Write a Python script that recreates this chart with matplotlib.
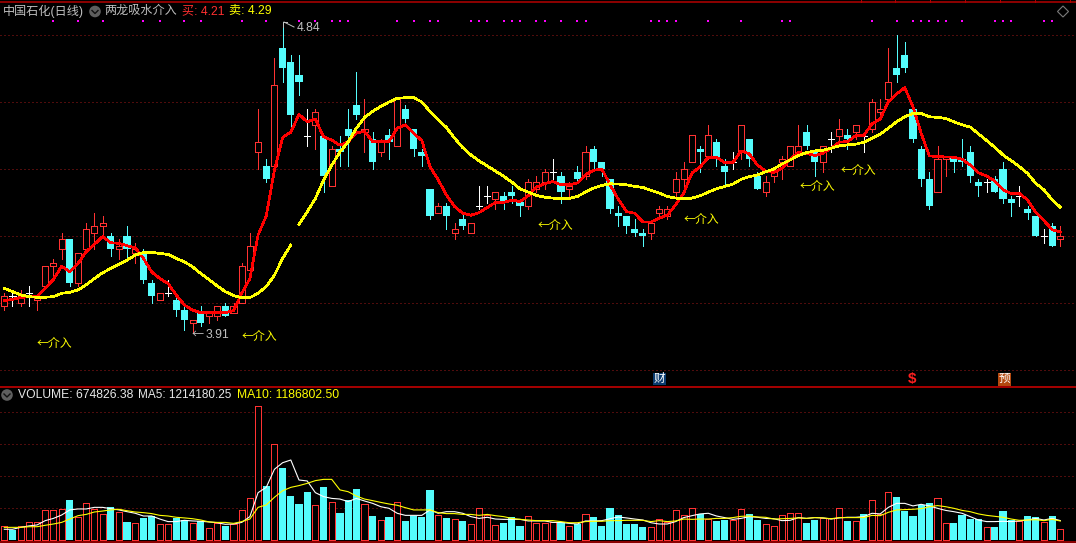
import matplotlib
matplotlib.use("Agg")
import numpy as np
import matplotlib.pyplot as plt
from matplotlib.patches import Circle, Rectangle, Polygon

plt.rcParams["font.family"] = ["Liberation Sans", "Noto Sans CJK SC"]

# daily candles, 10 per row
opens = [
    3.99, 4.02, 4.00, 4.03, 4.01, 4.05, 4.11, 4.16, 4.19, 4.06,
    4.16, 4.21, 4.23, 4.20, 4.16, 4.20, 4.15, 4.15, 4.06, 4.01,
    4.03, 4.01, 3.98, 3.94, 3.97, 3.96, 3.96, 3.99, 3.97, 4.00,
    4.10, 4.45, 4.41, 4.41, 4.76, 4.72, 4.68, 4.50, 4.53, 4.50,
    4.35, 4.46, 4.52, 4.59, 4.51, 4.49, 4.45, 4.50, 4.47, 4.58,
    4.52, 4.45, 4.34, 4.27, 4.29, 4.21, 4.25, 4.21, 4.29, 4.32,
    4.31, 4.32, 4.33, 4.30, 4.29, 4.34, 4.36, 4.39, 4.38, 4.34,
    4.39, 4.38, 4.46, 4.42, 4.37, 4.27, 4.26, 4.22, 4.21, 4.21,
    4.27, 4.26, 4.33, 4.37, 4.42, 4.46, 4.44, 4.48, 4.41, 4.42,
    4.45, 4.49, 4.38, 4.33, 4.38, 4.42, 4.41, 4.45, 4.51, 4.45,
    4.42, 4.49, 4.50, 4.50, 4.51, 4.50, 4.52, 4.57, 4.61, 4.70,
    4.74, 4.58, 4.46, 4.37, 4.33, 4.43, 4.44, 4.43, 4.45, 4.36,
    4.36, 4.37, 4.40, 4.31, 4.32, 4.28, 4.26, 4.20, 4.23, 4.19,
]
closes = [
    4.02, 4.02, 4.02, 4.03, 4.02, 4.11, 4.12, 4.19, 4.06, 4.15,
    4.22, 4.23, 4.24, 4.16, 4.17, 4.16, 4.16, 4.07, 4.02, 4.03,
    4.03, 3.98, 3.95, 3.95, 3.94, 3.97, 3.99, 3.96, 3.99, 4.11,
    4.17, 4.48, 4.37, 4.65, 4.70, 4.56, 4.66, 4.50, 4.57, 4.38,
    4.46, 4.45, 4.50, 4.56, 4.52, 4.42, 4.48, 4.48, 4.61, 4.55,
    4.46, 4.44, 4.26, 4.29, 4.26, 4.22, 4.23, 4.24, 4.29, 4.32,
    4.33, 4.30, 4.32, 4.29, 4.36, 4.36, 4.39, 4.39, 4.33, 4.35,
    4.37, 4.45, 4.42, 4.40, 4.28, 4.26, 4.23, 4.21, 4.20, 4.24,
    4.28, 4.28, 4.37, 4.40, 4.50, 4.45, 4.50, 4.43, 4.39, 4.42,
    4.53, 4.43, 4.34, 4.36, 4.39, 4.43, 4.47, 4.47, 4.47, 4.42,
    4.47, 4.49, 4.52, 4.49, 4.53, 4.50, 4.60, 4.58, 4.66, 4.68,
    4.70, 4.49, 4.37, 4.29, 4.43, 4.44, 4.42, 4.42, 4.38, 4.35,
    4.36, 4.33, 4.31, 4.30, 4.32, 4.27, 4.20, 4.20, 4.17, 4.20,
]
highs = [
    4.03, 4.03, 4.04, 4.05, 4.02, 4.11, 4.13, 4.21, 4.19, 4.15,
    4.24, 4.27, 4.26, 4.21, 4.19, 4.23, 4.18, 4.16, 4.07, 4.03,
    4.07, 4.02, 3.99, 3.95, 3.99, 3.97, 3.99, 4.00, 4.00, 4.12,
    4.21, 4.58, 4.43, 4.73, 4.84, 4.74, 4.74, 4.58, 4.58, 4.50,
    4.47, 4.50, 4.58, 4.69, 4.61, 4.51, 4.49, 4.52, 4.61, 4.59,
    4.52, 4.46, 4.34, 4.30, 4.30, 4.24, 4.27, 4.24, 4.35, 4.35,
    4.33, 4.33, 4.35, 4.31, 4.37, 4.38, 4.40, 4.43, 4.39, 4.36,
    4.41, 4.47, 4.47, 4.42, 4.37, 4.29, 4.26, 4.25, 4.22, 4.24,
    4.29, 4.29, 4.39, 4.42, 4.50, 4.47, 4.53, 4.49, 4.43, 4.45,
    4.53, 4.49, 4.39, 4.38, 4.40, 4.44, 4.47, 4.53, 4.53, 4.46,
    4.47, 4.51, 4.55, 4.52, 4.53, 4.51, 4.61, 4.61, 4.76, 4.80,
    4.78, 4.58, 4.47, 4.39, 4.47, 4.44, 4.44, 4.49, 4.47, 4.37,
    4.37, 4.38, 4.42, 4.32, 4.35, 4.29, 4.26, 4.22, 4.24, 4.23,
]
lows = [
    3.98, 3.99, 3.99, 3.99, 3.98, 4.05, 4.08, 4.13, 4.05, 4.05,
    4.15, 4.16, 4.20, 4.14, 4.13, 4.13, 4.12, 4.06, 4.00, 4.01,
    4.02, 3.96, 3.92, 3.91, 3.93, 3.94, 3.95, 3.96, 3.97, 4.00,
    4.10, 4.40, 4.36, 4.41, 4.66, 4.52, 4.62, 4.47, 4.46, 4.33,
    4.35, 4.41, 4.41, 4.55, 4.45, 4.40, 4.44, 4.43, 4.47, 4.53,
    4.44, 4.41, 4.25, 4.27, 4.22, 4.19, 4.22, 4.21, 4.28, 4.30,
    4.28, 4.28, 4.30, 4.26, 4.28, 4.33, 4.34, 4.36, 4.30, 4.31,
    4.36, 4.37, 4.40, 4.38, 4.27, 4.23, 4.21, 4.20, 4.17, 4.19,
    4.25, 4.25, 4.32, 4.35, 4.42, 4.39, 4.43, 4.41, 4.35, 4.40,
    4.43, 4.41, 4.34, 4.32, 4.36, 4.37, 4.41, 4.45, 4.46, 4.38,
    4.39, 4.45, 4.47, 4.46, 4.49, 4.45, 4.51, 4.56, 4.60, 4.66,
    4.69, 4.48, 4.35, 4.28, 4.33, 4.38, 4.39, 4.41, 4.36, 4.32,
    4.33, 4.33, 4.30, 4.26, 4.29, 4.25, 4.20, 4.18, 4.17, 4.17,
]
# 买 line
buy_line = [
    4.007, 4.011, 4.016, 4.019, 4.019, 4.044, 4.070, 4.110, 4.093, 4.118,
    4.153, 4.175, 4.198, 4.180, 4.178, 4.171, 4.165, 4.133, 4.093, 4.073,
    4.058, 4.024, 3.994, 3.979, 3.971, 3.971, 3.971, 3.971, 3.977, 4.029,
    4.073, 4.203, 4.260, 4.397, 4.494, 4.510, 4.563, 4.541, 4.549, 4.496,
    4.486, 4.471, 4.481, 4.508, 4.512, 4.482, 4.482, 4.482, 4.522, 4.532,
    4.507, 4.485, 4.407, 4.368, 4.323, 4.288, 4.268, 4.262, 4.270, 4.285,
    4.300, 4.300, 4.307, 4.303, 4.320, 4.346, 4.356, 4.363, 4.353, 4.353,
    4.358, 4.383, 4.396, 4.400, 4.353, 4.310, 4.273, 4.268, 4.242, 4.242,
    4.253, 4.262, 4.293, 4.328, 4.388, 4.406, 4.435, 4.435, 4.419, 4.419,
    4.454, 4.445, 4.412, 4.394, 4.389, 4.402, 4.429, 4.449, 4.447, 4.440,
    4.447, 4.462, 4.480, 4.482, 4.499, 4.500, 4.535, 4.549, 4.601, 4.624,
    4.643, 4.586, 4.507, 4.439, 4.437, 4.436, 4.435, 4.429, 4.412, 4.389,
    4.379, 4.364, 4.338, 4.327, 4.327, 4.308, 4.270, 4.246, 4.219, 4.212,
]
# 卖 line, the chart leaves a hole between bars 35 and 36
sell_line = [
    4.044, 4.034, 4.024, 4.019, 4.017, 4.017, 4.019, 4.029, 4.032, 4.039,
    4.054, 4.073, 4.090, 4.103, 4.116, 4.128, 4.143, 4.151, 4.151, 4.148,
    4.145, 4.133, 4.123, 4.108, 4.088, 4.070, 4.051, 4.034, 4.022, 4.016,
    4.016, 4.029, 4.049, 4.083, 4.133, 4.173, 4.235, 4.272, 4.312, 4.367,
    4.411, 4.451, 4.481, 4.521, 4.554, 4.572, 4.587, 4.600, 4.611, 4.613,
    4.613, 4.600, 4.572, 4.547, 4.524, 4.492, 4.464, 4.442, 4.424, 4.409,
    4.394, 4.378, 4.361, 4.341, 4.331, 4.321, 4.316, 4.313, 4.312, 4.312,
    4.318, 4.331, 4.343, 4.351, 4.356, 4.355, 4.353, 4.348, 4.345, 4.336,
    4.328, 4.318, 4.313, 4.312, 4.313, 4.320, 4.331, 4.341, 4.348, 4.355,
    4.369, 4.377, 4.382, 4.392, 4.400, 4.415, 4.427, 4.440, 4.449, 4.454,
    4.456, 4.462, 4.469, 4.472, 4.474, 4.480, 4.492, 4.504, 4.522, 4.541,
    4.556, 4.566, 4.566, 4.556, 4.554, 4.551, 4.541, 4.532, 4.525, 4.505,
    4.485, 4.465, 4.442, 4.425, 4.407, 4.387, 4.357, 4.338, 4.308, 4.286,
]
# volume in units of 10k
volume = [
    87.5, 62.5, 87.5, 112.5, 112.5, 187.5, 187.5, 193.8, 250.0, 145.8,
    229.2, 193.8, 162.5, 206.3, 172.9, 112.5, 104.2, 137.5, 150.0, 100.0,
    100.0, 137.5, 125.0, 104.2, 118.8, 75.0, 104.2, 87.5, 100.0, 187.5,
    262.5, 837.5, 337.5, 600.0, 450.0, 275.0, 225.0, 300.0, 216.7, 331.3,
    235.4, 168.8, 250.0, 318.8, 222.9, 150.0, 122.9, 143.8, 235.4, 118.8,
    150.0, 143.8, 312.5, 154.2, 137.5, 129.2, 118.8, 97.9, 197.9, 156.3,
    91.7, 106.3, 143.8, 87.5, 147.9, 104.2, 104.2, 112.5, 112.5, 85.4,
    102.1, 160.4, 143.8, 87.5, 200.0, 156.3, 100.0, 100.0, 81.3, 79.2,
    129.2, 114.6, 185.4, 154.2, 197.9, 160.4, 129.2, 118.8, 125.0, 125.0,
    191.7, 162.5, 125.0, 97.9, 85.4, 154.2, 166.7, 166.7, 106.3, 125.0,
    135.4, 135.4, 197.9, 118.8, 116.7, 162.5, 247.9, 162.5, 297.9, 268.8,
    181.3, 150.0, 216.7, 231.3, 260.4, 104.2, 106.3, 156.3, 131.3, 131.3,
    79.2, 81.3, 181.3, 125.0, 116.7, 150.0, 143.8, 110.4, 150.0, 67.5,
]
vol_ma5 = [
    67, 67, 79, 88, 94, 121, 135, 156, 188, 194,
    194, 204, 204, 196, 188, 177, 167, 150, 150, 131,
    115, 115, 123, 119, 117, 113, 108, 98, 100, 110,
    146, 296, 329, 442, 483, 500, 375, 369, 296, 271,
    260, 256, 240, 260, 244, 229, 208, 198, 167, 154,
    154, 154, 188, 167, 177, 177, 167, 146, 135, 142,
    131, 129, 129, 129, 119, 119, 119, 110, 110, 104,
    100, 119, 119, 121, 133, 144, 138, 131, 125, 108,
    100, 100, 115, 140, 152, 163, 167, 150, 140, 129,
    135, 146, 142, 135, 133, 121, 123, 140, 135, 140,
    138, 131, 138, 142, 142, 146, 167, 163, 204, 229,
    229, 213, 223, 213, 198, 185, 177, 167, 146, 125,
    115, 115, 117, 115, 119, 125, 135, 125, 135, 121.4,
]
vol_ma10 = [
    79, 79, 79, 83, 83, 92, 100, 110, 131, 152,
    160, 175, 181, 188, 192, 183, 175, 171, 165, 154,
    150, 142, 138, 133, 125, 113, 110, 110, 104, 115,
    131, 204, 219, 267, 308, 329, 340, 354, 371, 379,
    379, 313, 302, 275, 256, 246, 235, 225, 217, 202,
    188, 188, 188, 171, 165, 165, 160, 160, 154, 160,
    152, 146, 135, 129, 125, 121, 121, 121, 115, 108,
    108, 115, 117, 117, 121, 121, 123, 123, 123, 115,
    121, 115, 119, 131, 129, 131, 131, 135, 135, 140,
    148, 150, 144, 142, 131, 133, 135, 138, 135, 140,
    138, 133, 140, 140, 140, 140, 154, 152, 173, 188,
    190, 192, 196, 208, 215, 208, 198, 185, 177, 163,
    154, 148, 142, 131, 123, 125, 127, 121, 129, 118.7,
]
# flat candles whose volume bar is drawn as a down day
flat_down_bars = [1, 37, 105]
# magenta signal dots along the top
signal_bars = [
    6, 9, 12, 17, 19, 22, 24, 29, 32, 36, 38, 40, 41, 42, 48, 50, 52, 53,
    57, 58, 59, 61, 62, 63, 65, 66, 68, 70, 71, 79, 80, 81, 82, 86, 90, 95,
    96, 106, 109, 111, 112, 113, 114, 115, 117, 121, 122, 123, 127, 128,
]
# "←介入" labels: bar where the text starts, price of its centre line
entry_bars = [3.9, 29, 65.2, 83, 97.2, 102.2]
entry_prices = [3.878, 3.899, 4.230, 4.248, 4.349, 4.397]

price_ticks = [3.8, 4.0, 4.2, 4.4, 4.6, 4.8]
volume_ticks = [200, 400, 600, 800]

RED = "#FF3232"
CYAN = "#54FCFC"
GRID = "#A01818"
LINE = "#B40000"
GREY = "#C0C0C0"
CJK = ["Noto Sans CJK SC", "DejaVu Sans"]

W, H = 1076, 543
opens = np.array(opens)
closes = np.array(closes)
highs = np.array(highs)
lows = np.array(lows)
volume = np.array(volume)
idx = np.arange(len(closes))
is_up = closes > opens
is_down = closes < opens
is_flat = closes == opens
vol_down = is_down.copy()
vol_down[flat_down_bars] = True

fig = plt.figure(figsize=(W / 100, H / 100), dpi=100, facecolor="black")
# one bar is 8.186 px wide, bar 0 sits at x=4.3
xlim = (-4.3 / 8.186, (W - 4.3) / 8.186)

ax = fig.add_axes([0, 1 - 386 / H, 1, 384 / H], facecolor="black")
ax.set_xlim(xlim)
ax.set_ylim(4 + (303 - 386) / 335, 4 + (303 - 2) / 335)

vol_ax = fig.add_axes([0, 0, 1, 157 / H], facecolor="black")
vol_ax.set_xlim(xlim)
vol_ax.set_ylim((540 - 543) * 6.25, (540 - 386) * 6.25)

for a, ticks in ((ax, price_ticks), (vol_ax, volume_ticks)):
    a.set_yticks(ticks)
    a.set_xticks([])
    a.tick_params(length=0, labelleft=False)
    a.yaxis.grid(True, color=GRID, linestyle=(0, (1, 3)), linewidth=0.72)
    a.set_axisbelow(True)
    for s in a.spines.values():
        s.set_visible(False)

# wicks first, the bodies sit on top of them
ax.vlines(idx[is_up], lows[is_up], highs[is_up], color=RED, lw=0.72, zorder=2, antialiased=False)
ax.vlines(idx[is_down], lows[is_down], highs[is_down], color=CYAN, lw=0.72, zorder=2, antialiased=False)
ax.vlines(idx[is_flat], lows[is_flat], highs[is_flat], color="white", lw=0.72, zorder=2, antialiased=False)
ax.hlines(closes[is_flat], idx[is_flat] - 0.38, idx[is_flat] + 0.38, color="white", lw=0.72, zorder=2, antialiased=False)
ax.bar(idx[is_up], (closes - opens)[is_up], bottom=opens[is_up], width=0.74,
       facecolor="black", edgecolor=RED, linewidth=0.72, zorder=3, antialiased=False)
ax.bar(idx[is_down], (opens - closes)[is_down], bottom=closes[is_down], width=0.88,
       facecolor=CYAN, edgecolor=CYAN, linewidth=0, zorder=3, antialiased=False)

ax.plot(idx, buy_line, color="#FF0000", lw=1.2, zorder=4, antialiased=False)
ax.plot(idx[:36], sell_line[:36], color="#FFFF00", lw=1.2, zorder=5, antialiased=False)
ax.plot(idx[36:], sell_line[36:], color="#FFFF00", lw=1.2, zorder=5, antialiased=False)
ax.scatter(signal_bars, [4.842] * len(signal_bars), marker="s", s=3.2, color="#FF00FF", linewidths=0, zorder=6)

for b, p in zip(entry_bars, entry_prices):
    ax.text(b, p, "←介入", color="#FFFF00", fontsize=8.6, ha="left", va="center", zorder=7, family=CJK)

# volume panel
vol_ax.bar(idx[~vol_down], volume[~vol_down], width=0.74, facecolor="black",
           edgecolor=RED, linewidth=0.72, zorder=3, antialiased=False)
vol_ax.bar(idx[vol_down], volume[vol_down], width=0.88, facecolor=CYAN,
           edgecolor=CYAN, linewidth=0, zorder=3, antialiased=False)
vol_ax.plot(idx, vol_ma5, color="white", lw=0.8, zorder=4)
vol_ax.plot(idx, vol_ma10, color="#FFFF00", lw=0.8, zorder=5)

# everything else is placed in pixels on a clear overlay
top = fig.add_axes([0, 0, 1, 1], facecolor="none")
top.set_xlim(0, W)
top.set_ylim(H, 0)
top.axis("off")

top.plot([0, W], [1.5, 1.5], color=LINE, lw=1.1)
top.plot([0, W], [386.5, 386.5], color=LINE, lw=1.3)
top.plot([0, W], [542, 542], color=LINE, lw=1.1)
for x in [861, 895, 930, 965, 1000, 1035, 1070]:
    top.plot([x, x], [0, 2], color=LINE, lw=0.7)


def label(x, y, s, color=GREY, size=8.7, **kw):
    top.text(x, y, s, color=color, fontsize=size, ha="left", va="center", **kw)


def button(x, y):
    top.add_patch(Circle((x, y), 5.8, facecolor="#5F5F5F", edgecolor="none"))
    top.plot([x - 3, x, x + 3], [y - 1, y + 2, y - 1], color="#111111", lw=1)


label(3, 11, "中国石化(日线)")
button(95, 11.5)
label(104, 11, "两龙吸水介入")
label(182, 11, "买: 4.21", color="#FF3030")
label(229, 11, "卖: 4.29", color="#FFFF00")
top.add_patch(Polygon([(1063, 6), (1068.5, 11.5), (1063, 17), (1057.5, 11.5)],
                      closed=True, facecolor="none", edgecolor="#7A7A7A", lw=0.8))

# high and low marks
top.plot([283, 283, 287], [27, 22, 22], color=GREY, lw=0.7)
top.plot([284, 294], [22, 27], color=GREY, lw=0.7)
label(297, 28, "4.84")
label(192, 334.5, "←", family=CJK)
label(206, 335, "3.91")

# event icons above the separator
top.add_patch(Rectangle((653, 373), 13, 12, facecolor="#0A3A6E", edgecolor="none"))
top.text(659.5, 379, "财", color="white", fontsize=8.4, ha="center", va="center")
top.text(912.5, 379.5, "$", color="#FF2020", fontsize=11, ha="center", va="center", fontweight="bold")
top.add_patch(Rectangle((998, 372.5), 13, 13, facecolor="#B4480E", edgecolor="none"))
top.text(1004.5, 379, "预", color="white", fontsize=8.4, ha="center", va="center")

button(7, 395)
label(18, 395, "VOLUME: 674826.38", color="#E8E8E8")
label(138, 395, "MA5: 1214180.25", color="#E8E8E8", size=8.5)
label(237, 395, "MA10: 1186802.50", color="#FFFF00")

fig.savefig("out.png", dpi=100, facecolor="black")
